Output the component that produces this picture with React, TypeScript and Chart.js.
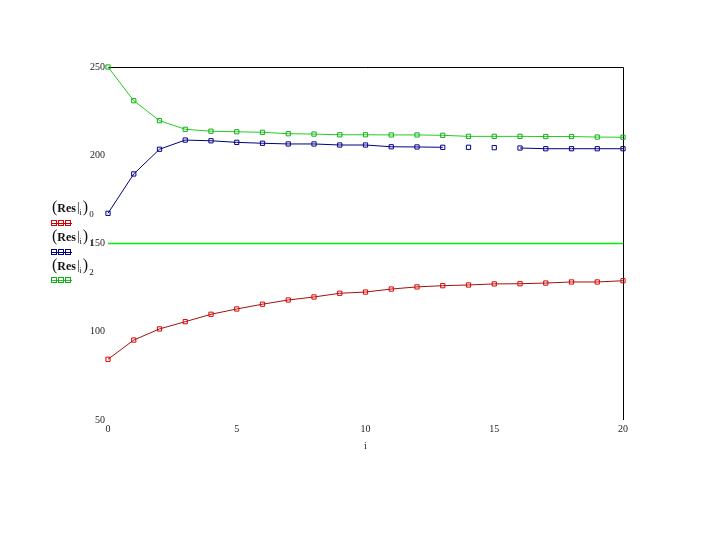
import React, { useEffect, useRef } from "react";
import { Chart, registerables } from "chart.js";

Chart.register(...registerables);

// ---- data ----
const iValues = [0, 1, 2, 3, 4, 5, 6, 7, 8, 9, 10, 11, 12, 13, 14, 15, 16, 17, 18, 19, 20];
const res0 = [84.4, 95.3, 101.6, 105.7, 109.9, 112.9, 115.6, 118.0, 119.7, 121.8, 122.5, 124.2, 125.4, 126.1, 126.5, 127.1, 127.2, 127.6, 128.2, 128.2, 128.9];
const res1 = [167.1, 189.4, 203.4, 208.6, 208.2, 207.3, 206.8, 206.4, 206.4, 205.8, 205.8, 204.8, 204.7, 204.5, 204.5, 204.3, 204.1, 203.7, 203.7, 203.7, 203.7];
const res2 = [250.0, 230.9, 219.6, 214.7, 213.6, 213.3, 213.0, 212.2, 212.0, 211.6, 211.6, 211.5, 211.5, 211.3, 210.7, 210.7, 210.7, 210.6, 210.6, 210.3, 210.2];
const markerLevel = 150;
const markerRange = [0, 20];
const res1MissingSegments = [13, 14, 15];
const legendSubscripts = ["0", "1", "2"];
const xTitle = "i";

const RED_LINE = "#a01010";
const RED_PT = "#e00000";
const BLUE_LINE = "#000080";
const BLUE_PT = "#00008b";
const GREEN_LINE = "#22cc22";
const GREEN_PT = "#10b010";
const LEVEL_GREEN = "#00ee00";

const serif = "'Liberation Serif', 'Times New Roman', serif";

const framePlugin = {
  id: "frame",
  beforeDatasetsDraw(chart: any) {
    const { ctx, chartArea } = chart;
    ctx.save();
    ctx.strokeStyle = "#000";
    ctx.lineWidth = 1;
    ctx.beginPath();
    ctx.moveTo(chartArea.left, chartArea.top + 0.5);
    ctx.lineTo(chartArea.right + 0.5, chartArea.top + 0.5);
    ctx.lineTo(chartArea.right + 0.5, chartArea.bottom);
    ctx.stroke();
    ctx.restore();
  },
};

const legendPlugin = {
  id: "mathcadLegend",
  afterDraw(chart: any) {
    const { ctx } = chart;
    const entries = [
      { sub: legendSubscripts[0], line: RED_LINE, pt: RED_PT, ty: 208, sy: 223 },
      { sub: legendSubscripts[1], line: BLUE_LINE, pt: BLUE_PT, ty: 237, sy: 252 },
      { sub: legendSubscripts[2], line: GREEN_LINE, pt: GREEN_PT, ty: 266, sy: 280 },
    ];
    ctx.save();
    ctx.fillStyle = "#111";
    ctx.textBaseline = "middle";
    ctx.textAlign = "left";
    for (const e of entries) {
      let x = 52;
      ctx.font = `16px ${serif}`;
      ctx.fillText("(", x, e.ty);
      x += ctx.measureText("(").width;
      ctx.font = `bold 12px ${serif}`;
      ctx.fillText("Res", x, e.ty + 1);
      x += ctx.measureText("Res").width + 1;
      ctx.font = `13px ${serif}`;
      ctx.fillText("|", x, e.ty);
      x += ctx.measureText("|").width;
      ctx.font = `8px ${serif}`;
      ctx.fillText("i", x, e.ty + 5);
      x += ctx.measureText("i").width + 1;
      ctx.font = `16px ${serif}`;
      ctx.fillText(")", x, e.ty);
      x += ctx.measureText(")").width;
      ctx.font = `9px ${serif}`;
      ctx.fillText(e.sub, x + 1, e.ty + 7);

      // sample line with three square markers
      ctx.strokeStyle = e.line;
      ctx.lineWidth = 1;
      ctx.beginPath();
      ctx.moveTo(52, e.sy + 0.5);
      ctx.lineTo(72, e.sy + 0.5);
      ctx.stroke();
      ctx.strokeStyle = e.pt;
      for (const px of [54, 61, 68]) {
        ctx.strokeRect(px - 2.5, e.sy - 2.5, 5, 5);
      }
    }
    ctx.restore();
  },
};

export default function App() {
  const canvasRef = useRef<HTMLCanvasElement | null>(null);

  useEffect(() => {
    const canvas = canvasRef.current;
    if (!canvas) return;
    const pts = (arr: number[]) => iValues.map((x, k) => ({ x, y: arr[k] }));

    const common = {
      borderWidth: 1,
      pointStyle: "rect",
      pointRadius: 3,
      pointBorderWidth: 1,
      pointBackgroundColor: "rgba(0,0,0,0)",
      tension: 0,
      clip: false as any,
    };

    const chart = new Chart(canvas, {
      type: "line",
      data: {
        datasets: [
          {
            label: "level",
            data: markerRange.map((x) => ({ x, y: markerLevel })),
            borderColor: LEVEL_GREEN,
            backgroundColor: LEVEL_GREEN,
            pointBorderColor: LEVEL_GREEN,
            borderWidth: 1.5,
            pointRadius: 0,
            fill: false,
            clip: false as any,
          },
          {
            label: "(Res_i)_0",
            data: pts(res0),
            borderColor: RED_LINE,
            pointBorderColor: RED_PT,
            ...common,
          },
          {
            label: "(Res_i)_1",
            data: pts(res1),
            borderColor: BLUE_LINE,
            pointBorderColor: BLUE_PT,
            segment: {
              borderColor: (c: any) =>
                res1MissingSegments.includes(c.p0DataIndex) ? "rgba(0,0,0,0)" : BLUE_LINE,
            },
            ...common,
          },
          {
            label: "(Res_i)_2",
            data: pts(res2),
            borderColor: GREEN_LINE,
            pointBorderColor: GREEN_PT,
            ...common,
          },
        ],
      },
      options: {
        animation: false,
        responsive: false,
        devicePixelRatio: 1,
        layout: { padding: { left: 0, top: 67, right: 97, bottom: 88 } },
        plugins: {
          legend: { display: false },
          tooltip: { enabled: false },
          title: { display: false },
        },
        scales: {
          x: {
            type: "linear",
            min: 0,
            max: 20,
            grid: { display: false, drawTicks: false },
            border: { display: false },
            ticks: {
              stepSize: 5,
              padding: 3,
              color: "#222",
              font: { family: serif, size: 10 },
              maxRotation: 0,
            },
            title: {
              display: true,
              text: xTitle,
              color: "#222",
              font: { family: serif, size: 10 },
              padding: 0,
            },
            afterFit: (s: any) => {
              s.height = 32;
            },
          },
          y: {
            type: "linear",
            min: 50,
            max: 250,
            grid: { display: false, drawTicks: false },
            border: { display: false },
            ticks: {
              stepSize: 50,
              padding: 3,
              color: "#222",
              font: { family: serif, size: 10 },
            },
            afterFit: (s: any) => {
              s.width = 108;
            },
          },
        },
      },
      plugins: [framePlugin, legendPlugin],
    });

    return () => chart.destroy();
  }, []);

  return (
    <div style={{ position: "fixed", left: 0, top: 0, width: 720, height: 540, background: "#fff" }}>
      <canvas ref={canvasRef} width={720} height={540} />
    </div>
  );
}
